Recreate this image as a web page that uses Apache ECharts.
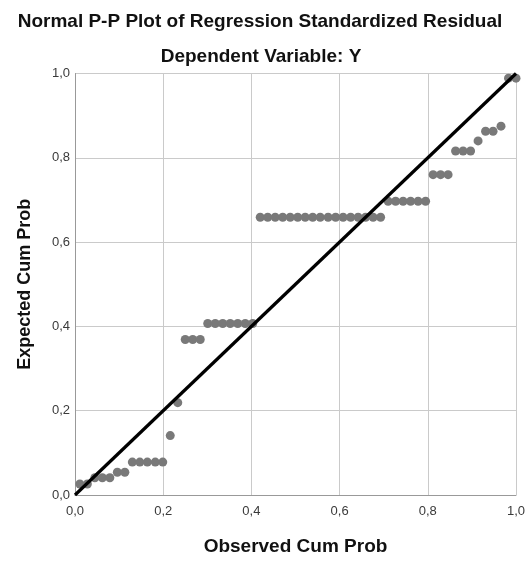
<!DOCTYPE html>
<html>
<head>
<meta charset="utf-8">
<script src="https://cdn.jsdelivr.net/npm/echarts@6/dist/echarts.min.js"></script>
<style>
html,body{margin:0;padding:0;background:#fff;}
#chart{width:529px;height:561px;}
</style>
</head>
<body>
<div id="chart"></div>
<script>
var titleText = "Normal P-P Plot of Regression Standardized Residual";
var subtitleText = "Dependent Variable: Y";
var xAxisName = "Observed Cum Prob";
var yAxisName = "Expected Cum Prob";

var observedCumProb = [
  0.011, 0.028, 0.045, 0.062, 0.079, 0.096, 0.113, 0.130, 0.147, 0.164,
  0.182, 0.199, 0.216, 0.233, 0.250, 0.267, 0.284, 0.301, 0.318, 0.335,
  0.352, 0.369, 0.386, 0.403, 0.420, 0.437, 0.454, 0.471, 0.488, 0.505,
  0.522, 0.539, 0.556, 0.574, 0.591, 0.608, 0.625, 0.642, 0.659, 0.676,
  0.693, 0.710, 0.727, 0.744, 0.761, 0.778, 0.795, 0.812, 0.829, 0.846,
  0.863, 0.880, 0.897, 0.914, 0.931, 0.948, 0.966, 0.983, 1.000
];
var expectedCumProb = [
  0.026, 0.026, 0.041, 0.041, 0.041, 0.054, 0.054, 0.078, 0.078, 0.078,
  0.078, 0.078, 0.141, 0.219, 0.369, 0.369, 0.369, 0.407, 0.407, 0.407,
  0.407, 0.407, 0.407, 0.407, 0.659, 0.659, 0.659, 0.659, 0.659, 0.659,
  0.659, 0.659, 0.659, 0.659, 0.659, 0.659, 0.659, 0.659, 0.659, 0.659,
  0.659, 0.697, 0.697, 0.697, 0.697, 0.697, 0.697, 0.760, 0.760, 0.760,
  0.816, 0.816, 0.816, 0.840, 0.863, 0.863, 0.875, 0.989, 0.989
];
var referenceLine = [[0, 0], [1, 1]];

var points = observedCumProb.map(function (x, i) { return [x, expectedCumProb[i]]; });

var FONT = "'Liberation Sans', Arial, sans-serif";
function fmt(v) { return v.toFixed(1).replace('.', ','); }

var chart = echarts.init(document.getElementById('chart'), null, {renderer: 'canvas'});
chart.setOption({
  animation: false,
  backgroundColor: '#ffffff',
  graphic: [
    {type: 'text', x: 260, y: 22, style: {text: titleText, fill: '#111', font: 'bold 19px ' + FONT, textAlign: 'center', textVerticalAlign: 'middle'}},
    {type: 'text', x: 261, y: 57, style: {text: subtitleText, fill: '#111', font: 'bold 19px ' + FONT, textAlign: 'center', textVerticalAlign: 'middle'}}
  ],
  grid: {left: 75, right: 13, top: 73.5, bottom: 57.5, containLabel: false},
  xAxis: {
    type: 'value', min: 0, max: 1, interval: 0.2,
    name: xAxisName, nameLocation: 'middle', nameGap: 42,
    nameTextStyle: {fontFamily: FONT, fontWeight: 'bold', fontSize: 19, color: '#111'},
    axisLine: {show: true, onZero: false, lineStyle: {color: '#999', width: 1}},
    axisTick: {show: false},
    axisLabel: {formatter: fmt, fontFamily: FONT, fontSize: 13, color: '#3a3a3a', margin: 10, showMaxLabel: true, showMinLabel: true},
    splitLine: {show: true, lineStyle: {color: '#cacaca', width: 1}}
  },
  yAxis: {
    type: 'value', min: 0, max: 1, interval: 0.2,
    name: yAxisName, nameLocation: 'middle', nameGap: 41,
    nameTextStyle: {fontFamily: FONT, fontWeight: 'bold', fontSize: 18, color: '#111'},
    axisLine: {show: true, onZero: false, lineStyle: {color: '#999', width: 1}},
    axisTick: {show: false},
    axisLabel: {formatter: fmt, fontFamily: FONT, fontSize: 13, color: '#3a3a3a', margin: 5, showMaxLabel: true, showMinLabel: true},
    splitLine: {show: true, lineStyle: {color: '#cacaca', width: 1}}
  },
  series: [
    {
      type: 'scatter', data: points, symbol: 'circle', symbolSize: 9,
      itemStyle: {color: '#797979', opacity: 1}, z: 2
    },
    {
      type: 'line', data: referenceLine, showSymbol: false, symbol: 'none',
      lineStyle: {color: '#000', width: 3.2}, z: 3, silent: true
    }
  ]
});
</script>
</body>
</html>
